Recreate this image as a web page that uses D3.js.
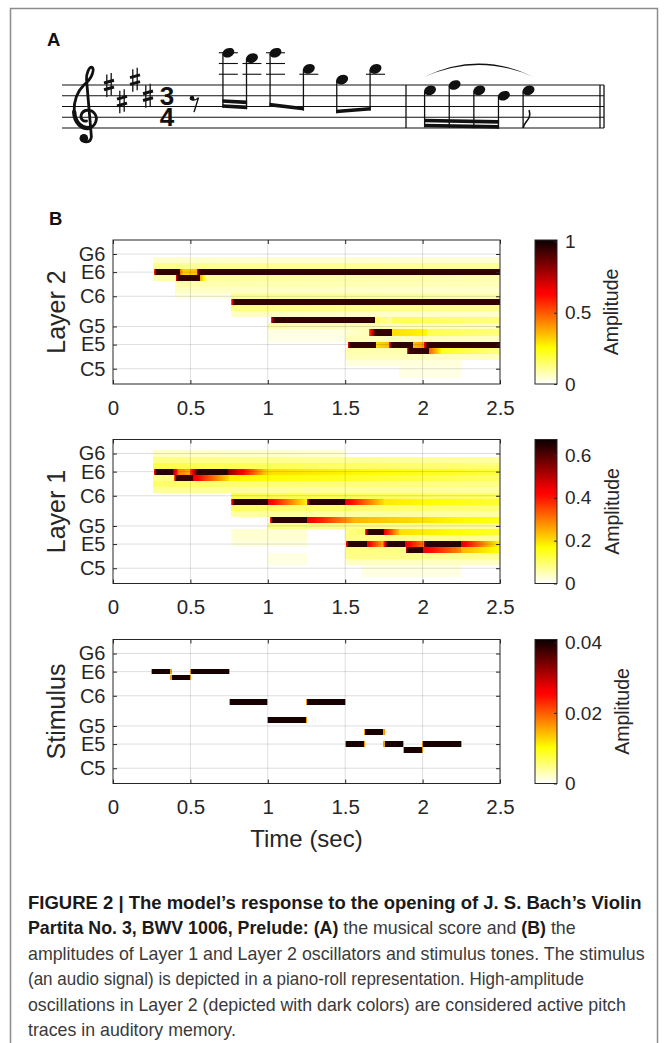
<!DOCTYPE html>
<html>
<head>
<meta charset="utf-8">
<script src="https://cdn.jsdelivr.net/npm/d3@7/dist/d3.min.js"></script>
<style>
  body { margin: 0; background: #fff; }
  text { font-family: "Liberation Sans", Arial, sans-serif; }
</style>
</head>
<body>
<svg id="fig" width="668" height="1043"></svg>
<script>
// ---------- data ----------
const timeTicks = [0, 0.5, 1, 1.5, 2, 2.5];
const pitchTicks = [72, 76, 79, 84, 88, 91];           // midi numbers
const pitchLabels = ['C5', 'E5', 'G5', 'C6', 'E6', 'G6'];
const panelNames = ['Layer 2', 'Layer 1', 'Stimulus'];
const ampMax = [1.01, 0.672, 0.0408];
const ampTicks = [[0, 0.5, 1], [0, 0.2, 0.4, 0.6], [0, 0.02, 0.04]];

// stimulus piano roll: [midi, onset, offset]
const stimAmp = 0.04;
const stimulusNotes = [
  [88, 0.25, 0.375], [87, 0.375, 0.5], [88, 0.5, 0.75], [83, 0.75, 1.0],
  [80, 1.0, 1.25], [83, 1.25, 1.5], [76, 1.5, 1.625], [78, 1.625, 1.75],
  [76, 1.75, 1.875], [75, 1.875, 2.0], [76, 2.0, 2.25]
];

// oscillator amplitude segments: [midi, t0, t1, amp at t0, amp at t1]
const layer2 = [
  [90, 0.26, 2.5, 0.05, 0.04], [89, 0.26, 2.5, 0.11, 0.1],
  [88, 0.265, 0.28, 0.5, 0.9], [88, 0.28, 0.43, 0.95, 0.95], [88, 0.43, 0.45, 0.5, 0.35],
  [88, 0.45, 0.54, 0.32, 0.35], [88, 0.54, 0.555, 0.6, 0.9], [88, 0.555, 2.5, 0.95, 0.95],
  [87, 0.26, 0.405, 0.08, 0.08], [87, 0.405, 0.415, 0.5, 0.9], [87, 0.415, 0.56, 0.95, 0.95],
  [87, 0.56, 0.6, 0.4, 0.18], [87, 0.6, 2.5, 0.1, 0.08],
  [86, 0.4, 2.5, 0.08, 0.07], [85, 0.4, 2.5, 0.06, 0.05],
  [84, 0.4, 0.76, 0.03, 0.03], [84, 0.76, 2.5, 0.1, 0.08],
  [83, 0.765, 0.78, 0.5, 0.9], [83, 0.78, 2.5, 0.95, 0.95],
  [82, 0.76, 2.5, 0.12, 0.11], [81, 0.76, 2.5, 0.06, 0.05],
  [80, 1.02, 1.035, 0.5, 0.9], [80, 1.035, 1.69, 0.95, 0.95], [80, 1.69, 1.8, 0.16, 0.1],
  [80, 1.8, 2.5, 0.17, 0.13],
  [79, 1.0, 2.5, 0.08, 0.07], [78, 1.0, 1.5, 0.03, 0.03], [77, 1.0, 1.5, 0.025, 0.025],
  [78, 1.5, 1.655, 0.05, 0.07], [78, 1.655, 1.69, 0.5, 0.9], [78, 1.69, 1.8, 0.95, 0.95],
  [78, 1.8, 2.03, 0.3, 0.26], [78, 2.03, 2.5, 0.17, 0.13],
  [77, 1.5, 2.5, 0.07, 0.06],
  [76, 1.515, 1.527, 0.5, 0.9], [76, 1.527, 1.697, 0.95, 0.95], [76, 1.697, 1.78, 0.3, 0.35],
  [76, 1.78, 1.8, 0.55, 0.9], [76, 1.8, 1.936, 0.95, 0.95], [76, 1.936, 2.01, 0.35, 0.4],
  [76, 2.01, 2.026, 0.6, 0.9], [76, 2.026, 2.5, 0.95, 0.95],
  [75, 1.5, 1.9, 0.08, 0.08], [75, 1.9, 1.91, 0.5, 0.9], [75, 1.91, 2.04, 0.95, 0.95],
  [75, 2.04, 2.12, 0.5, 0.26], [75, 2.12, 2.5, 0.22, 0.12],
  [74, 1.5, 2.5, 0.07, 0.06], [73, 1.5, 2.25, 0.035, 0.035],
  [72, 1.85, 2.25, 0.025, 0.025], [71, 1.85, 2.25, 0.025, 0.025]
];

const layer1 = [
  [91, 0.26, 1.5, 0.04, 0.03], [90, 0.26, 2.5, 0.08, 0.06], [89, 0.26, 2.5, 0.12, 0.09],
  [88, 0.265, 0.28, 0.35, 0.62], [88, 0.28, 0.385, 0.64, 0.64], [88, 0.385, 0.42, 0.55, 0.35],
  [88, 0.42, 0.5, 0.3, 0.25], [88, 0.5, 0.54, 0.35, 0.6], [88, 0.54, 0.745, 0.64, 0.64],
  [88, 0.745, 1.0, 0.55, 0.2], [88, 1.0, 2.5, 0.2, 0.13],
  [87, 0.26, 0.395, 0.08, 0.08], [87, 0.395, 0.41, 0.3, 0.6], [87, 0.41, 0.52, 0.63, 0.63],
  [87, 0.52, 0.75, 0.45, 0.2], [87, 0.75, 2.5, 0.18, 0.1],
  [86, 0.26, 2.5, 0.1, 0.08], [85, 0.26, 2.5, 0.07, 0.06], [84, 0.76, 2.5, 0.12, 0.1],
  [83, 0.765, 0.78, 0.35, 0.6], [83, 0.78, 1.0, 0.64, 0.64], [83, 1.0, 1.25, 0.45, 0.18],
  [83, 1.25, 1.27, 0.35, 0.6], [83, 1.27, 1.5, 0.64, 0.64], [83, 1.5, 1.75, 0.45, 0.2],
  [83, 1.75, 2.5, 0.19, 0.14],
  [82, 0.76, 2.5, 0.1, 0.09], [81, 0.76, 2.5, 0.06, 0.06],
  [80, 1.015, 1.03, 0.35, 0.6], [80, 1.03, 1.25, 0.64, 0.64], [80, 1.25, 1.55, 0.45, 0.25],
  [80, 1.55, 2.5, 0.24, 0.15],
  [79, 1.0, 2.5, 0.08, 0.07], [78, 0.76, 1.25, 0.03, 0.03], [77, 0.76, 1.25, 0.03, 0.03],
  [76, 0.76, 1.25, 0.02, 0.02], [74, 1.0, 1.25, 0.02, 0.02], [73, 1.0, 1.25, 0.02, 0.02],
  [78, 1.5, 1.63, 0.08, 0.1], [78, 1.63, 1.645, 0.35, 0.6], [78, 1.645, 1.75, 0.64, 0.64],
  [78, 1.75, 1.85, 0.45, 0.22], [78, 1.85, 2.5, 0.2, 0.14],
  [77, 1.5, 2.5, 0.08, 0.07],
  [76, 1.505, 1.52, 0.35, 0.6], [76, 1.52, 1.64, 0.64, 0.64], [76, 1.64, 1.745, 0.45, 0.25],
  [76, 1.745, 1.77, 0.3, 0.6], [76, 1.77, 1.885, 0.64, 0.64], [76, 1.885, 2.01, 0.45, 0.3],
  [76, 2.01, 2.02, 0.5, 0.62], [76, 2.02, 2.25, 0.64, 0.64], [76, 2.25, 2.5, 0.45, 0.16],
  [75, 1.5, 1.89, 0.08, 0.08], [75, 1.89, 1.9, 0.35, 0.6], [75, 1.9, 2.0, 0.64, 0.64],
  [75, 2.0, 2.25, 0.45, 0.28], [75, 2.25, 2.5, 0.24, 0.16],
  [74, 1.5, 2.5, 0.08, 0.07], [73, 1.5, 2.5, 0.04, 0.04],
  [72, 1.6, 2.25, 0.02, 0.02], [71, 1.6, 2.25, 0.02, 0.02]
];

// score: staff steps above E4 (0 = bottom line), durations in sixteenths
const keySteps = [8, 5, 9, 6];                 // F#, C#, G#, D#
const m1Steps = [null, 14, 13, 14, 11, 9, 11];  // null = eighth rest
const m1Durs = [2, 1, 1, 2, 2, 2, 2];
const m2Steps = [7, 8, 7, 6, 7];
const m2Durs = [1, 1, 1, 1, 2];
const m1Beams = [[1, 2], [3, 4], [5, 6]];
const m2Beams = [[0, 1, 2, 3]];

const captionLines = [
  [['FIGURE 2 | The model\u2019s response to the opening of J. S. Bach\u2019s Violin', 1]],
  [['Partita No. 3, BWV 1006, Prelude: (A)', 1], [' the musical score and ', 0], ['(B)', 1], [' the', 0]],
  [['amplitudes of Layer 1 and Layer 2 oscillators and stimulus tones. The stimulus', 0]],
  [['(an audio signal) is depicted in a piano-roll representation. High-amplitude', 0]],
  [['oscillations in Layer 2 (depicted with dark colors) are considered active pitch', 0]],
  [['traces in auditory memory.', 0]]
];
const captionWidths = [614, 548, 617, 556, 598, 208];

// ---------- helpers ----------
const svg = d3.select('#fig');
const defs = svg.append('defs');
const ink = '#262626';

svg.append('rect').attr('width', 668).attr('height', 1043).attr('fill', '#fff');
svg.append('rect')
  .attr('x', 10.5).attr('y', 8.5).attr('width', 647).attr('height', 1050)
  .attr('fill', 'none').attr('stroke', '#8c8c8c').attr('stroke-width', 1.5);

// flipped MATLAB "hot": 0 -> white, 1 -> black
function hotFlip(t) {
  const c = v => Math.max(0, Math.min(1, v));
  const u = 1 - c(t);
  return d3.rgb(255 * c(0.04 + u / 0.375), 255 * c((u - 0.375) / 0.375), 255 * c((u - 0.75) / 0.25)).toString();
}

let gradId = 0;
function gradientFill(color, a0, a1, vertical) {
  if (a0 === a1 && !vertical) return color(a0);
  const id = 'g' + (gradId++);
  const g = defs.append('linearGradient').attr('id', id)
    .attr('x1', 0).attr('y1', vertical ? 1 : 0).attr('x2', vertical ? 0 : 1).attr('y2', 0);
  const n = vertical ? 40 : 8;
  const interp = d3.interpolateNumber(a0, a1);
  d3.range(n + 1).forEach(k => {
    g.append('stop').attr('offset', k / n).attr('stop-color', color(interp(k / n)));
  });
  return `url(#${id})`;
}

// ---------- panel B ----------
const plotLeft = 113, plotRight = 500, plotH = 144;
const panelTops = [240, 439.5, 639.5];
const x = d3.scaleLinear().domain([0, 2.5]).range([plotLeft, plotRight]);

svg.append('text').attr('x', 49).attr('y', 225)
  .attr('font-size', 18.5).attr('font-weight', 'bold').attr('fill', '#111').text('B');

panelNames.forEach((name, i) => {
  const top = panelTops[i];
  const y = d3.scaleLinear().domain([69.47, 93.32]).range([top + plotH, top]);
  const color = d3.scaleSequential(hotFlip).domain([0, ampMax[i]]);
  const g = svg.append('g');

  // heat cells
  const cells = g.append('g').attr('shape-rendering', 'crispEdges');
  if (i < 2) {
    const segs = i === 0 ? layer2 : layer1;
    cells.selectAll('rect').data(segs).join('rect')
      .attr('x', d => x(d[1]))
      .attr('width', d => x(d[2]) - x(d[1]))
      .attr('y', d => y(d[0] + 0.5))
      .attr('height', d => y(d[0] - 0.5) - y(d[0] + 0.5))
      .attr('fill', d => gradientFill(color, d[3], d[4], false));
  } else {
    cells.selectAll('rect').data(stimulusNotes).join('rect')
      .attr('x', d => x(d[1]))
      .attr('width', d => x(d[2]) - x(d[1]))
      .attr('y', d => y(d[0] + 0.45))
      .attr('height', d => y(d[0] - 0.45) - y(d[0] + 0.45))
      .attr('fill', color(stimAmp));
    // soft onset/offset edges of each tone
    cells.selectAll('line.edge').data(stimulusNotes.flatMap(d => [[d[0], d[1]], [d[0], d[2]]]))
      .join('line').attr('class', 'edge')
      .attr('x1', d => x(d[1])).attr('x2', d => x(d[1]))
      .attr('y1', d => y(d[0] + 0.45)).attr('y2', d => y(d[0] - 0.45))
      .attr('stroke', color(stimAmp * 0.4)).attr('stroke-width', 1.2);
  }

  // grid lines (drawn on top, translucent)
  const grid = g.append('g').attr('stroke', '#000').attr('stroke-opacity', 0.13).attr('stroke-width', 1);
  grid.selectAll('line.v').data(timeTicks.slice(1, -1)).join('line').attr('class', 'v')
    .attr('x1', d => x(d)).attr('x2', d => x(d)).attr('y1', top).attr('y2', top + plotH);
  grid.selectAll('line.h').data(pitchTicks).join('line').attr('class', 'h')
    .attr('y1', d => y(d)).attr('y2', d => y(d)).attr('x1', plotLeft).attr('x2', plotRight);

  // axes
  const styleAxis = sel => {
    sel.select('.domain').remove();
    sel.selectAll('line').attr('stroke', ink);
    sel.selectAll('text').attr('fill', ink).attr('font-size', 20.5)
      .attr('font-family', '"Liberation Sans", Arial, sans-serif');
  };
  g.append('g').attr('transform', `translate(0,${top + plotH})`)
    .call(d3.axisBottom(x).tickValues(timeTicks).tickSize(-4).tickPadding(16).tickFormat(d3.format('~g')))
    .call(styleAxis);
  g.append('g').attr('transform', `translate(0,${top})`)
    .call(d3.axisTop(x).tickValues(timeTicks).tickSize(-4).tickFormat(''))
    .call(styleAxis);
  const yAx = g.append('g').attr('transform', `translate(${plotLeft},0)`)
    .call(d3.axisLeft(y).tickValues(pitchTicks).tickSize(-4).tickPadding(7.5)
      .tickFormat((d, k) => pitchLabels[k]))
    .call(styleAxis);
  yAx.selectAll('text').attr('font-size', 20);
  g.append('g').attr('transform', `translate(${plotRight},0)`)
    .call(d3.axisRight(y).tickValues(pitchTicks).tickSize(-4).tickFormat(''))
    .call(styleAxis);
  g.append('rect').attr('x', plotLeft).attr('y', top).attr('width', plotRight - plotLeft).attr('height', plotH)
    .attr('fill', 'none').attr('stroke', ink).attr('stroke-width', 1);

  g.append('text')
    .attr('transform', `translate(65,${top + plotH / 2}) rotate(-90)`)
    .attr('text-anchor', 'middle').attr('font-size', 25).attr('fill', ink).text(name);

  // colorbar
  const cbX = 535, cbW = 22;
  const cb = d3.scaleLinear().domain([0, ampMax[i]]).range([top + plotH, top]);
  g.append('rect').attr('x', cbX).attr('y', top).attr('width', cbW).attr('height', plotH)
    .attr('fill', gradientFill(color, 0, ampMax[i], true))
    .attr('stroke', ink).attr('stroke-width', 1);
  const cbAxis = g.append('g').attr('transform', `translate(${cbX + cbW},0)`)
    .call(d3.axisRight(cb).tickValues(ampTicks[i]).tickSize(-3).tickPadding(8).tickFormat(d3.format('~g')))
    .call(styleAxis);
  cbAxis.selectAll('text').attr('font-size', 19);
  const labRight = d3.max(cbAxis.selectAll('text').nodes(), n => n.getBBox().width) + cbX + cbW + 8;
  g.append('text')
    .attr('transform', `translate(${labRight + 27},${top + plotH / 2}) rotate(-90)`)
    .attr('text-anchor', 'middle').attr('font-size', 19.5).attr('fill', ink).text('Amplitude');
});

svg.append('text').attr('x', (plotLeft + plotRight) / 2).attr('y', 847)
  .attr('text-anchor', 'middle').attr('font-size', 24).attr('fill', ink).text('Time (sec)');

// ---------- panel A: score ----------
svg.append('text').attr('x', 47).attr('y', 46)
  .attr('font-size', 18.5).attr('font-weight', 'bold').attr('fill', '#111').text('A');

const sp = 10.75;
const staff = d3.scaleLinear().domain([0, 8]).range([128, 128 - 4 * sp]);  // step -> y
const score = svg.append('g').attr('fill', '#111').attr('stroke', '#111');
const staffL = 62, staffR = 604;

score.selectAll('line.staff').data([0, 2, 4, 6, 8]).join('line').attr('class', 'staff')
  .attr('x1', staffL).attr('x2', staffR).attr('y1', d => staff(d)).attr('y2', d => staff(d))
  .attr('stroke-width', 1.1);

// treble clef (drawn in staff-space units around the G line)
const clefPath = 'M -0.35 2.0 C -0.35 2.4, 0.45 2.45, 0.5 1.8 L 0.05 -3.5 ' +
  'C 0.0 -4.0, 0.3 -4.75, 0.55 -4.65 C 0.8 -4.5, 0.65 -3.7, -0.2 -3.0 ' +
  'C -0.8 -2.4, -1.15 -1.6, -1.1 -0.5 C -1.05 0.6, -0.3 1.05, 0.2 1.0 ' +
  'C 0.9 0.95, 1.15 0.1, 0.8 -0.35 C 0.45 -0.8, -0.3 -0.75, -0.45 -0.2 ' +
  'C -0.55 0.15, -0.25 0.4, 0.05 0.35';
const clef = score.append('g').attr('transform', `translate(86,${staff(2)}) scale(${sp})`);
clef.append('path').attr('d', clefPath).attr('fill', 'none').attr('stroke-width', 0.26)
  .attr('stroke-linecap', 'round').attr('stroke-linejoin', 'round');
// heavier lower bowl stroke
clef.append('path').attr('d', 'M -1.1 -0.5 C -1.05 0.6, -0.3 1.05, 0.2 1.0')
  .attr('fill', 'none').attr('stroke-width', 0.4).attr('stroke-linecap', 'round');
clef.append('circle').attr('cx', -0.2).attr('cy', 1.95).attr('r', 0.4).attr('stroke', 'none');

// key signature sharps
const keyX = d3.scaleLinear().domain([0, keySteps.length - 1]).range([109, 148]);
keySteps.forEach((s, k) => {
  const cx = keyX(k), cy = staff(s);
  const sg = score.append('g');
  sg.append('line').attr('x1', cx - 2.2).attr('x2', cx - 2.2).attr('y1', cy - 10.5).attr('y2', cy + 12).attr('stroke-width', 1.3);
  sg.append('line').attr('x1', cx + 2.2).attr('x2', cx + 2.2).attr('y1', cy - 12).attr('y2', cy + 10.5).attr('stroke-width', 1.3);
  sg.append('line').attr('x1', cx - 5).attr('x2', cx + 5).attr('y1', cy - 2).attr('y2', cy - 4.8).attr('stroke-width', 3);
  sg.append('line').attr('x1', cx - 5).attr('x2', cx + 5).attr('y1', cy + 4.8).attr('y2', cy + 2).attr('stroke-width', 3);
});

// time signature
[['3', 6], ['4', 2]].forEach(([d, s]) => {
  score.append('text').attr('x', 167).attr('y', staff(s)).attr('dy', '0.34em')
    .attr('text-anchor', 'middle').attr('stroke', 'none')
    .attr('font-family', '"Liberation Serif", "DejaVu Serif", serif').attr('font-weight', 'bold')
    .attr('font-size', 26).text(d);
});

// measure layouts: spacing grows with the square root of the duration
function layout(durs, x0, x1) {
  const acc = [0];
  durs.slice(0, -1).forEach(d => acc.push(acc[acc.length - 1] + Math.sqrt(d)));
  const sc = d3.scaleLinear().domain([0, acc[acc.length - 1]]).range([x0, x1]);
  return acc.map(sc);
}
const m1X = layout(m1Durs, 195, 375.5);
const m2X = layout(m2Durs, 430, 528.5);

function drawNote(nx, s) {
  const ny = staff(s);
  for (let l = 10; l <= s; l += 2) {
    score.append('line').attr('x1', nx - 9.5).attr('x2', nx + 9.5)
      .attr('y1', staff(l)).attr('y2', staff(l)).attr('stroke-width', 1.1);
  }
  score.append('ellipse').attr('cx', nx).attr('cy', ny).attr('rx', 6.2).attr('ry', 4.6)
    .attr('transform', `rotate(-22,${nx},${ny})`).attr('stroke', 'none');
}

function drawBeamGroup(xs, steps, durs) {
  const ys = steps.map(staff);
  const base = Math.max(d3.max(ys) + 3 * sp, staff(4) + 2);
  const slant = Math.max(-0.6 * sp, Math.min(0.6 * sp, (ys[ys.length - 1] - ys[0]) * 0.25));
  const sx = xs.map(v => v - 5.4);
  const beamY = d3.scaleLinear().domain([sx[0], sx[sx.length - 1]]).range([base - slant / 2, base + slant / 2]);
  sx.forEach((v, k) => {
    score.append('line').attr('x1', v).attr('x2', v).attr('y1', ys[k] + 1).attr('y2', beamY(v)).attr('stroke-width', 1.3);
  });
  const nBeams = d3.max(durs) === 1 ? 2 : 1;
  for (let b = 0; b < nBeams; b++) {
    const off = b * 5;
    const a = sx[0] - 0.6, z = sx[sx.length - 1] + 0.6;
    score.append('path').attr('stroke', 'none').attr('d',
      `M${a},${beamY(a) - off} L${z},${beamY(z) - off} L${z},${beamY(z) - off - 3.6} L${a},${beamY(a) - off - 3.6} Z`);
  }
}

// eighth rest
const rx0 = m1X[0], ry0 = staff(5);
score.append('circle').attr('cx', rx0 - 3).attr('cy', ry0 - 3).attr('r', 2.3).attr('stroke', 'none');
score.append('path').attr('fill', 'none').attr('stroke-width', 1.4)
  .attr('d', `M${rx0 - 3},${ry0 - 1.5} Q${rx0},${ry0} ${rx0 + 3.5},${ry0 - 3.5} L${rx0 - 1},${ry0 + 11}`);

m1Steps.forEach((s, k) => { if (s !== null) drawNote(m1X[k], s); });
m1Beams.forEach(gr => drawBeamGroup(gr.map(k => m1X[k]), gr.map(k => m1Steps[k]), gr.map(k => m1Durs[k])));
m2Steps.forEach((s, k) => drawNote(m2X[k], s));
m2Beams.forEach(gr => drawBeamGroup(gr.map(k => m2X[k]), gr.map(k => m2Steps[k]), gr.map(k => m2Durs[k])));

// lone eighth with flag
const lx = m2X[4] - 5.4, ly = staff(m2Steps[4]), lend = ly + 3.5 * sp;
score.append('line').attr('x1', lx).attr('x2', lx).attr('y1', ly + 1).attr('y2', lend).attr('stroke-width', 1.3);
score.append('path').attr('fill', 'none').attr('stroke-width', 1.6)
  .attr('d', `M${lx},${lend} C${lx + 1},${lend - 7} ${lx + 9},${lend - 8} ${lx + 6},${lend - 18}`);

// slur over the second measure
const s0 = m2X[0] - 6, s1 = m2X[4] + 5, sy = staff(9.5);
score.append('path').attr('stroke', 'none')
  .attr('d', `M${s0},${sy} Q${(s0 + s1) / 2},${sy - 27} ${s1},${sy} Q${(s0 + s1) / 2},${sy - 24} ${s0},${sy} Z`);

// bar lines
score.append('line').attr('x1', 406).attr('x2', 406).attr('y1', staff(8)).attr('y2', staff(0)).attr('stroke-width', 1.3);
score.append('line').attr('x1', 600).attr('x2', 600).attr('y1', staff(8)).attr('y2', staff(0)).attr('stroke-width', 1.3);
score.append('line').attr('x1', 604).attr('x2', 604).attr('y1', staff(8)).attr('y2', staff(0)).attr('stroke-width', 1.3);

// ---------- caption ----------
const capBase = d3.scaleLinear().domain([0, captionLines.length - 1]).range([909, 1036]);
captionLines.forEach((parts, k) => {
  const t = svg.append('text').attr('x', 0).attr('y', 0).attr('font-size', 18.5);
  parts.forEach(([str, bold]) => {
    t.append('tspan').attr('font-weight', bold ? 'bold' : 'normal')
      .attr('fill', bold ? '#1a1a1a' : '#3a3a3a').text(str);
  });
  const natural = t.node().getComputedTextLength();
  t.attr('transform', `translate(28,${capBase(k)}) scale(${captionWidths[k] / natural},1)`);
});
</script>
</body>
</html>
